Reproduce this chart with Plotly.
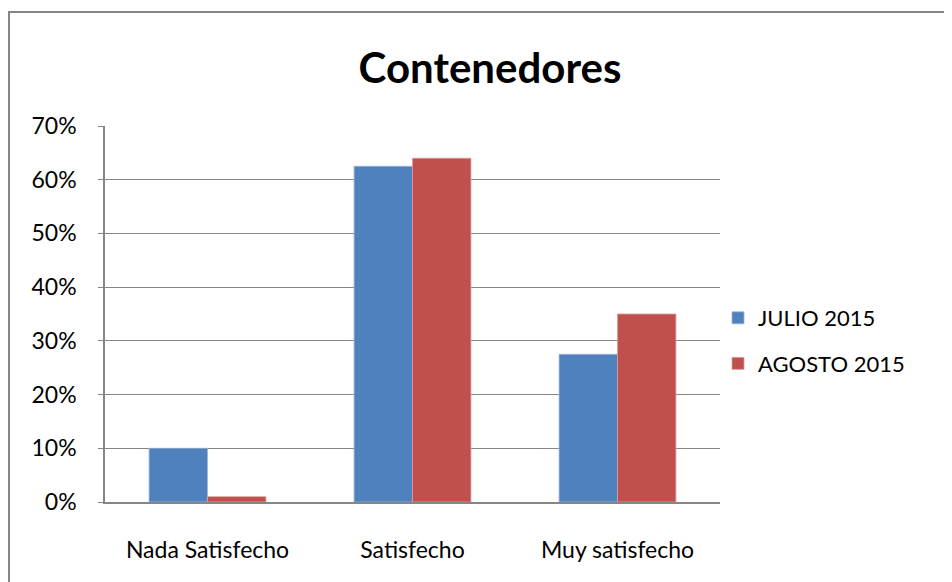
import plotly.graph_objects as go

categories = ["Nada Satisfecho", "Satisfecho", "Muy satisfecho"]
julio_2015 = [10.0, 62.5, 27.5]
agosto_2015 = [1.0, 64.0, 35.0]
series_names = ["JULIO 2015", "AGOSTO 2015"]
y_ticks = [0, 10, 20, 30, 40, 50, 60, 70]
y_tick_labels = [f"{v}%" for v in y_ticks]

FONT = "Lato"
OFF = 8  # page body margin
W, H = 952 - OFF, 582 - OFF
# target plot area in screen pixels
SL, SR, ST, SB = 105, 720, 126, 502
L, R, T, B = SL - OFF, SR - OFF, ST - OFF, SB - OFF

fig = go.Figure()
fig.add_trace(go.Bar(
    x=categories, y=julio_2015, name=series_names[0], legendgroup="a",
    marker=dict(color="#4F81BD", line=dict(color="#9DB5D8", width=0.8)),
))
fig.add_trace(go.Bar(
    x=categories, y=agosto_2015, name=series_names[1], legendgroup="b",
    marker=dict(color="#C0504D", line=dict(color="#DE9C9A", width=0.8)),
))

def px_x(p):  # screen px -> paper
    return (p - SL) / (SR - SL)

def px_y(p):
    return (SB - p) / (SB - ST)

fig.update_layout(
    width=W, height=H,
    margin=dict(l=L, r=W - R, t=T, b=H - B),
    paper_bgcolor="white", plot_bgcolor="white",
    barmode="group", bargap=0.43, bargroupgap=0,
    font=dict(family=FONT, size=23, color="black"),
    title=dict(text="<b>Contenedores</b>", x=(490 - OFF) / W, xanchor="center",
               y=(H - (68 - OFF)) / H, yanchor="middle",
               font=dict(family=FONT, size=42, color="black")),
    legend=dict(x=px_x(718), xanchor="left", y=px_y(341), yanchor="middle",
                font=dict(family=FONT, size=22), tracegroupgap=14,
                itemwidth=30, bgcolor="rgba(0,0,0,0)"),
    showlegend=True,
    xaxis=dict(showgrid=False, showline=True, linecolor="#868686", linewidth=2,
               ticks="", ticklabelstandoff=26, tickfont=dict(family=FONT, size=23)),
    yaxis=dict(range=[0, 70], tickvals=y_ticks, ticktext=y_tick_labels,
               showgrid=True, gridcolor="#868686", gridwidth=1.2,
               showline=True, linecolor="#868686", linewidth=1.5,
               ticks="outside", ticklen=5, tickcolor="#868686",
               ticklabelstandoff=17, zeroline=False,
               tickfont=dict(family=FONT, size=23)),
    shapes=[dict(type="rect", xref="paper", yref="paper",
                 x0=px_x(9), x1=px_x(980), y0=px_y(620), y1=px_y(12),
                 line=dict(color="#868686", width=2), fillcolor="rgba(0,0,0,0)",
                 layer="below")],
)

fig.write_html("out.html")
